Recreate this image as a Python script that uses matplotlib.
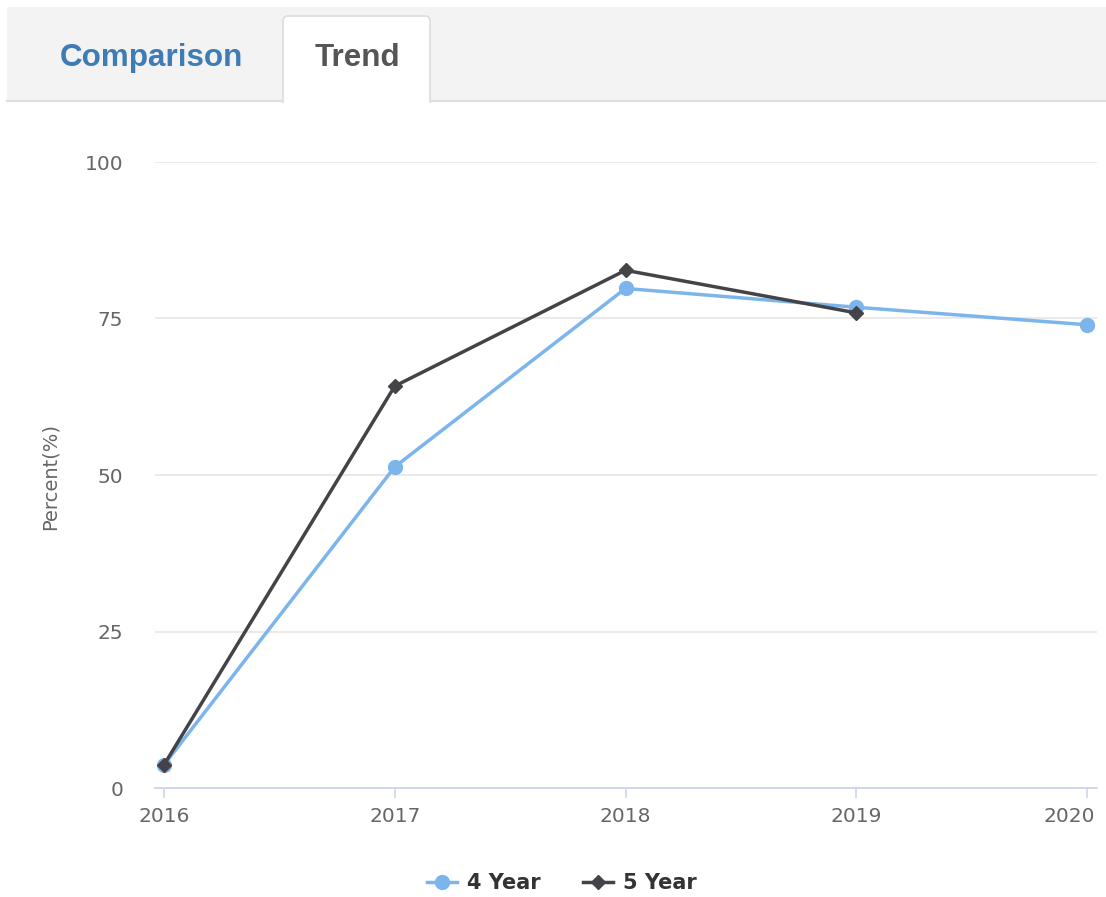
import matplotlib
matplotlib.use('Agg')
import matplotlib.pyplot as plt
from matplotlib.patches import Rectangle, FancyBboxPatch
from matplotlib.lines import Line2D
from matplotlib.transforms import ScaledTranslation

# data
years = [2016, 2017, 2018, 2019, 2020]
four_year = [3.7, 51.3, 79.8, 76.8, 74.0]
five_year_years = [2016, 2017, 2018, 2019]
five_year = [3.7, 64.2, 82.7, 75.9]
series_names = ['4 Year', '5 Year']
tab_names = ['Comparison', 'Trend']
y_ticks = [0, 25, 50, 75, 100]

W, H = 1106, 897
fig = plt.figure(figsize=(W / 100, H / 100), dpi=100)
fig.patch.set_facecolor('white')

# pixel helper (top-left origin) -> inches for dpi_scale_trans
tr = fig.dpi_scale_trans
def px(x, y):
    return x / 100, (H - y) / 100

# tab bar
x0, y0 = px(7, 102)
fig.add_artist(Rectangle((x0, y0), (W - 7) / 100, 95 / 100, transform=tr,
                         facecolor='#f3f3f3', edgecolor='none', zorder=0))
fig.add_artist(Line2D([7 / 100, W / 100], [(H - 101) / 100] * 2, transform=tr,
                      color='#dddddd', lw=1.6, zorder=1))
tx, ty = px(283, 112)
fig.add_artist(FancyBboxPatch((tx, ty), 147 / 100, 96 / 100, transform=tr,
                              boxstyle='round,pad=0,rounding_size=0.05',
                              facecolor='white', edgecolor='#dddddd', lw=1.2, zorder=2))
wx, wy = px(280, 125)
fig.add_artist(Rectangle((wx, wy), 153 / 100, 22.5 / 100, transform=tr,
                         facecolor='white', edgecolor='none', zorder=3))
cx, cy = px(151, 58)
fig.text(cx, cy, tab_names[0], transform=tr, ha='center', va='center',
         fontsize=22.6, fontweight='bold', color='#3d7cb5', family='Liberation Sans')
cx, cy = px(357, 58)
fig.text(cx, cy, tab_names[1], transform=tr, ha='center', va='center',
         fontsize=22.6, fontweight='bold', color='#555555', family='Liberation Sans')

# plot area
left, right, top, bottom = 155, 1097, 162, 788
ax = fig.add_axes([left / W, 1 - bottom / H, (right - left) / W, (bottom - top) / H])
ax.set_facecolor('white')

ax.plot(years, four_year, color='#7cb5ec', lw=2.5, marker='o', ms=10,
        label=series_names[0], zorder=3, clip_on=False)
ax.plot(five_year_years, five_year, color='#434348', lw=2.5, marker='D', ms=7.5,
        label=series_names[1], zorder=4, clip_on=False)

ax.set_xlim(2016 - 9 / 230.75, 2020 + 10 / 230.75)
ax.set_ylim(0, 100)
ax.set_xticks(years)
ax.set_yticks(y_ticks)
ax.set_xticklabels([str(y) for y in years])

for s in ['top', 'right', 'left']:
    ax.spines[s].set_visible(False)
ax.spines['bottom'].set_color('#ccd6eb')
ax.spines['bottom'].set_linewidth(1.3)
ax.yaxis.grid(True, color='#e6e6e6', lw=1.2)
ax.set_axisbelow(True)
ax.tick_params(axis='y', length=0, pad=23, labelsize=14.5, labelcolor='#666666')
ax.tick_params(axis='x', length=7, width=1.2, color='#ccd6eb', pad=7,
               labelsize=14.5, labelcolor='#666666')

# last x label is pushed inside the chart
last = ax.get_xticklabels()[-1]
last.set_horizontalalignment('right')
last.set_transform(last.get_transform() + ScaledTranslation(0.08, 0, fig.dpi_scale_trans))

lx, ly = px(50, 476)
fig.text(lx, ly, 'Percent(%)', transform=tr, rotation=90, ha='center', va='center',
         fontsize=14, color='#666666')

lgx, lgy = px(562, 883)
fig.legend(loc='center', bbox_to_anchor=(lgx, lgy), bbox_transform=tr, ncol=2,
           frameon=False, prop={'size': 15, 'weight': 'bold'}, labelcolor='#333333',
           handlelength=1.45, handletextpad=0.5, columnspacing=2.0)

fig.savefig('out.png', dpi=100, facecolor='white')
